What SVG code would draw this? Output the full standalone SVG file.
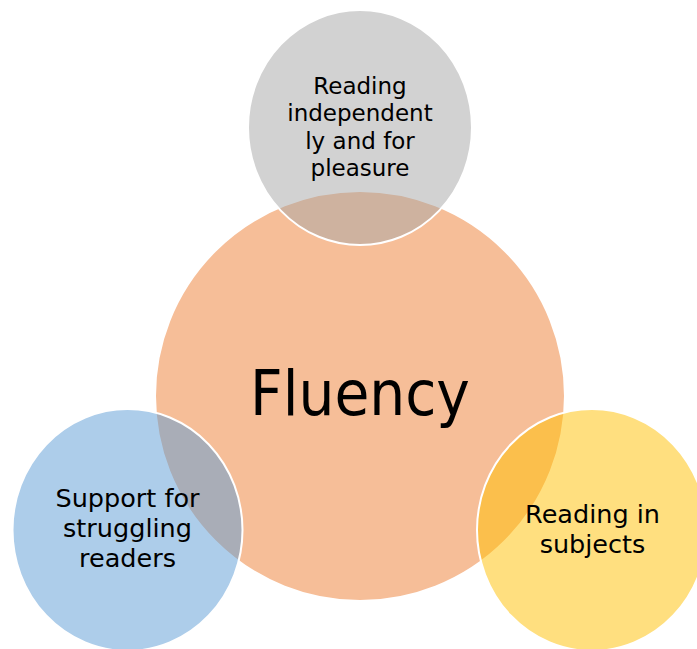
<svg xmlns="http://www.w3.org/2000/svg" width="697" height="649" viewBox="0 0 697 649">
  <style>
    .ring { stroke: #FFFFFF; stroke-width: 2; fill-opacity: 0.5; }
    .label { font-family: "DejaVu Sans", "Liberation Sans", sans-serif; fill: #000000; text-anchor: middle; }
    .hub { font-family: "DejaVu Sans Condensed", "DejaVu Sans", sans-serif; font-size: 63px; fill: #000000; text-anchor: middle; }
  </style>
  <rect width="697" height="649" fill="#FFFFFF"/>

  <!-- central circle -->
  <g id="fluency">
    <circle class="ring" cx="360" cy="396" r="205" fill="#ED7D31"/>
    <text class="hub" x="360" y="415">Fluency</text>
  </g>

  <!-- satellite shapes, semi-transparent over the hub -->
  <g id="independent">
    <ellipse class="ring" cx="360" cy="127.5" rx="112" ry="117.5" fill="#A5A5A5"/>
    <text class="label" font-size="23" x="360" y="94">Reading</text>
    <text class="label" font-size="23" x="360" y="121.3">independent</text>
    <text class="label" font-size="23" x="360" y="148.6">ly and for</text>
    <text class="label" font-size="23" x="360" y="175.9">pleasure</text>
  </g>

  <g id="struggling">
    <ellipse class="ring" cx="127.5" cy="530" rx="115" ry="121" fill="#5B9BD5"/>
    <text class="label" font-size="25.5" x="127.5" y="507">Support for</text>
    <text class="label" font-size="25.5" x="127.5" y="537">struggling</text>
    <text class="label" font-size="25.5" x="127.5" y="567">readers</text>
  </g>

  <g id="subjects">
    <ellipse class="ring" cx="592" cy="530" rx="115" ry="121" fill="#FFC000"/>
    <text class="label" font-size="25.5" x="592.5" y="523">Reading in</text>
    <text class="label" font-size="25.5" x="592.5" y="553">subjects</text>
  </g>

  <!-- no connectors in this diagram -->
  <g id="connectors"/>
</svg>
